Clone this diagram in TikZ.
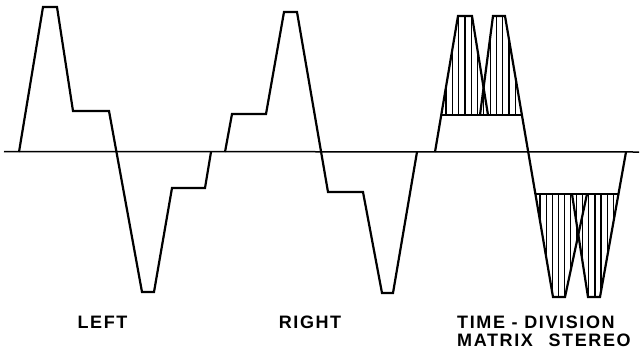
\documentclass[tikz,border=0pt]{standalone}
\usepackage{fontspec}
\setmainfont{Liberation Sans}[LetterSpace=9]
\begin{document}
\begin{tikzpicture}[x=1pt,y=-1pt,
  wave/.style={line width=2.2pt},
  axis/.style={line width=1.5pt},
  hatch/.style={line width=1.2pt},
  lbl/.style={font=\fontsize{18}{21}\selectfont\bfseries, inner sep=0pt, text height=13pt, text depth=0pt}]
\useasboundingbox (0,0) rectangle (641,349);
% baseline
\draw[axis] (4,151.5) -- (639,152);
% LEFT waveform
\draw[wave] (19,152) -- (43,7) -- (57,7) -- (73,111) -- (109,111) -- (142,292) -- (154,292) -- (172,188) -- (205,188) -- (211,152);
% RIGHT waveform
\draw[wave] (225,152) -- (232,114) -- (266,114) -- (284,12) -- (297,12) -- (328,192) -- (363,192) -- (382,293) -- (393,293) -- (417,152);
% TDM hatching (upper)
\begin{scope}
  \clip (441,115) -- (458,16) -- (472,16) -- (488,115) -- cycle
        (480,115) -- (493,16) -- (505,16) -- (522,115) -- cycle;
  \foreach \k in {0,...,11} \draw[hatch] ({446+6.3*\k},10) -- ({446+6.3*\k},120);
\end{scope}
% TDM hatching (lower)
\begin{scope}
  \clip (535,194) -- (553,297) -- (565,297) -- (587,194) -- cycle
        (572,194) -- (588,297) -- (600,297) -- (618,194) -- cycle;
  \foreach \k in {0,...,12} \draw[hatch] ({540+6.1*\k},190) -- ({540+6.1*\k},300);
\end{scope}
% TDM outlines
\draw[wave] (435,152) -- (458,16) -- (472,16) -- (488,115);
\draw[wave] (480,115) -- (493,16) -- (505,16) -- (553,297) -- (565,297) -- (587,194);
\draw[wave] (572,194) -- (588,297) -- (600,297) -- (626,152);
\draw[wave] (441,115) -- (522,115);
\draw[wave] (535,194) -- (618,194);
% labels
\node[lbl, anchor=base] (left) at (102.5,328.5) {LEFT};
\node[lbl, anchor=base] (right) at (310,328.5) {RIGHT};
\node[lbl, anchor=base west] (tdm1) at (457,328.5) {TIME - DIVISION};
\node[lbl, anchor=base west] (tdm2) at (457,346) {MATRIX\hspace{9pt} STEREO};
\end{tikzpicture}
\end{document}
